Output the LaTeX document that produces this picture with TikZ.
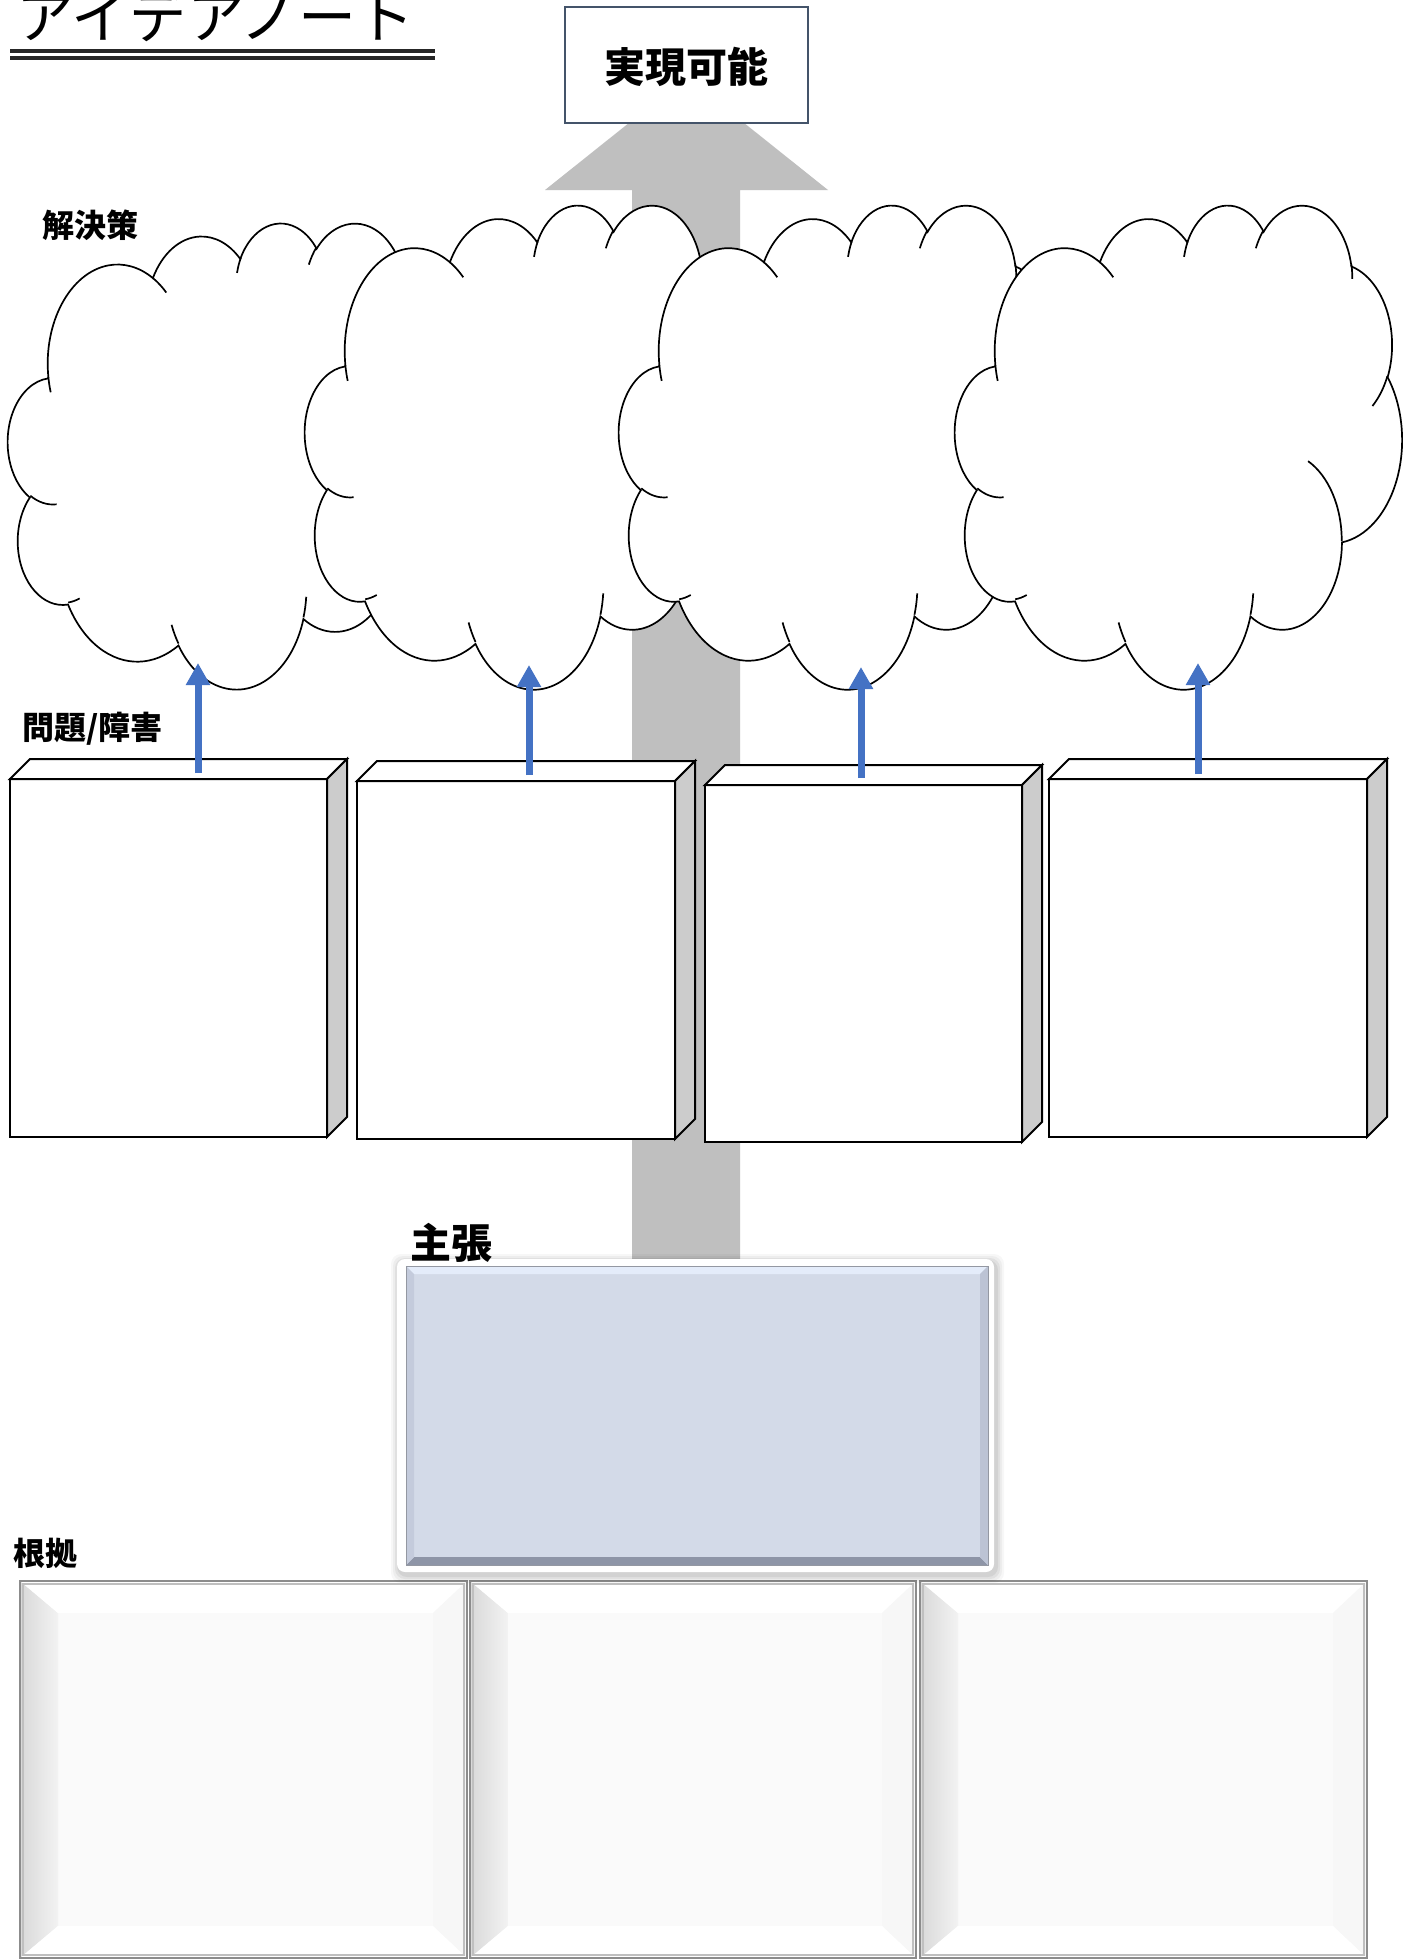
\documentclass[tikz,border=0pt]{standalone}
\usepackage{fontspec}
\setmainfont{Noto Sans CJK JP}
\usetikzlibrary{arrows.meta}
\definecolor{arrowgray}{HTML}{BFBFBF}
\definecolor{goalframe}{HTML}{44546A}
\definecolor{cubeside}{HTML}{CCCCCC}
\definecolor{bluearr}{HTML}{4472C4}
\definecolor{claimfill}{HTML}{D3DAE8}
\definecolor{claimtop}{HTML}{E4ECFA}
\definecolor{claimbot}{HTML}{8E95A7}
\definecolor{claimleft}{HTML}{C4CBDC}
\definecolor{claimright}{HTML}{BCC3D4}
\definecolor{titleline}{HTML}{262626}
\definecolor{bevelborder}{HTML}{8C8C8C}

% visual (OOXML) angle arc -> parametric TikZ arc
\newcommand\carc[4]{arc[x radius=#1pt, y radius=#2pt,
  start angle={atan2(sin(#3)*#1,cos(#3)*#2)},
  delta angle={mod(atan2(sin(#3+#4)*#1,cos(#3+#4)*#2)-atan2(sin(#3)*#1,cos(#3)*#2)+720,360)}]}

\newcommand\officecloud[4]{% X Y W H (px)
\begin{scope}[shift={(#1,#2)}, xscale=#3*0.5/4320, yscale=-#4*0.5/4320]
 \draw[cloudline, fill=white] (390pt,1437pt)
  \carc{675.3}{919.0}{-190.4875}{123.7805}
  \carc{533.3}{726.7}{-144.1024}{89.9452}
  \carc{436.5}{594.5}{-145.8079}{99.7230}
  \carc{485.7}{659.5}{-130.9861}{117.2417}
  \carc{533.3}{727.3}{-78.7089}{109.0269}
  \carc{677.5}{922.0}{-46.2673}{130.2690}
  \carc{578.5}{786.7}{0.6250}{114.0333}
  \carc{675.2}{921.5}{22.4516}{115.1726}
  \carc{772.0}{1054.3}{66.2426}{75.7110}
  \carc{436.0}{591.8}{-274.9421}{146.7356}
  \carc{434.5}{594.5}{-246.8285}{152.5189}
  -- cycle;
 \draw[cloudline]
  (469.3pt,2617.7pt) \carc{434.5}{594.5}{86.7420}{26.4295}
  (692.8pt,3489.9pt) \carc{436.0}{591.8}{73.6105}{11.4475}
  (1647.8pt,3909.0pt) \carc{675.2}{921.5}{137.6242}{14.0811}
  (2882.7pt,3475.1pt) \carc{675.2}{921.5}{6.4533}{15.9984}
  (3412.9pt,2295.4pt) \carc{578.5}{786.7}{-70.2924}{70.9174}
  (4179.8pt,1535.4pt) \carc{533.3}{727.3}{30.3180}{27.7515}
  (3832.4pt,542.6pt) \carc{485.7}{659.5}{-13.7443}{14.8589}
  (2907.8pt,395.2pt) \carc{485.7}{659.5}{-149.1815}{18.1954}
  (2214.1pt,472.0pt) \carc{436.5}{594.5}{-163.4943}{17.6864}
  (1400.0pt,519.2pt) \carc{675.3}{919.0}{-66.7070}{12.3194}
  (412.7pt,1578.9pt) \carc{675.3}{919.0}{157.6544}{11.8582};
\end{scope}}

\newcommand\cube[5]{% name cx cy w(pt) h(pt)
 \node[cubefront, minimum width=#4, minimum height=#5] (#1) at (#2,#3) {};
 \filldraw[cubeline, fill=white] (#1.north west) -- ([shift={(20,-20)}]#1.north west)
   -- ([shift={(20,-20)}]#1.north east) -- (#1.north east) -- cycle;
 \filldraw[cubeline, fill=cubeside] (#1.north east) -- ([shift={(20,-20)}]#1.north east)
   -- ([shift={(20,-20)}]#1.south east) -- (#1.south east) -- cycle;}

\newcommand\bevelbox[4]{% x1 y1 x2 y2
 \fill[white!98!black] (#1,#2) rectangle (#3,#4);
 \shade[left color=black!15, right color=black!5] (#1,#2) -- (#1+38,#2+32) -- (#1+38,#4-32) -- (#1,#4) -- cycle;
 \fill[white] (#1,#2) -- (#3,#2) -- (#3-34,#2+32) -- (#1+38,#2+32) -- cycle;
 \fill[black!3] (#3,#2) -- (#3,#4) -- (#3-34,#4-32) -- (#3-34,#2+32) -- cycle;
 \fill[white] (#1,#4) -- (#3,#4) -- (#3-34,#4-32) -- (#1+38,#4-32) -- cycle;
 \draw[black!25, line width=0.6pt] (#1+3,#2+3) rectangle (#3-3,#4-3);
 \draw[bevelborder, line width=1pt] (#1,#2) rectangle (#3,#4);}

\tikzset{
 cloudline/.style={black, line width=0.85pt},
 cubefront/.style={draw=black, line width=1pt, fill=white, rectangle, inner sep=0, outer sep=0},
 cubeline/.style={draw=black, line width=1pt, line join=miter},
 bluearrow/.style={bluearr, line width=3.5pt, -{Triangle[width=11.5pt,length=11pt]}},
 lbl/.style={font=\bfseries\fontsize{16pt}{16pt}\selectfont, inner sep=0, anchor=west},
}

\begin{document}
\begin{tikzpicture}[x=0.5pt, y=-0.5pt]
\useasboundingbox (0,0) rectangle (1413,1960);
\fill[white] (0,0) rectangle (1413,1960);

% title
\node[anchor=base west, inner sep=0, font=\fontsize{29pt}{29pt}\selectfont] (title) at (16,38) {アイデアノート};
\draw[titleline, line width=1.8pt] (10,51) -- (435,51);
\draw[titleline, line width=1.8pt] (10,58) -- (435,58);

% big gray arrow
\fill[arrowgray] (686.5,77) -- (828,190) -- (740,190) -- (740,1270) -- (632,1270)
  -- (632,190) -- (545,190) -- cycle;

% goal box
\node[draw=goalframe, line width=1pt, fill=white, inner sep=0,
  minimum width=121.5pt, minimum height=58pt] (goal) at (686.5,65) {};
\node[inner sep=0, font=\bfseries\fontsize{20.5pt}{20.5pt}\selectfont] (goaltext) at (686.5,67) {実現可能};

% clouds
\officecloud{8}{222}{447}{466}
\officecloud{305}{204}{447}{484}
\officecloud{619}{204}{447}{484}
\officecloud{955}{204}{447}{484}

% labels
\node[lbl] (sol) at (42,225) {解決策};
\node[lbl] (prob) at (22,729) {問題/障害};

% cubes
\cube{b1}{168.5}{958}{158.5pt}{179pt}
\cube{b2}{516}{960}{159pt}{179pt}
\cube{b3}{863.5}{963.5}{158.5pt}{178.5pt}
\cube{b4}{1208}{958}{159pt}{179pt}

% blue arrows
\coordinate (a1s) at (198,773); \coordinate (a1e) at (198,663);
\coordinate (a2s) at (529,775); \coordinate (a2e) at (529,665);
\coordinate (a3s) at (861,778); \coordinate (a3e) at (861,667);
\coordinate (a4s) at (1198,774); \coordinate (a4e) at (1198,663);
\draw[bluearrow] (a1s) -- (a1e);
\draw[bluearrow] (a2s) -- (a2e);
\draw[bluearrow] (a3s) -- (a3e);
\draw[bluearrow] (a4s) -- (a4e);

% evidence boxes
\bevelbox{20}{1581}{467}{1958}
\bevelbox{470}{1581}{916}{1958}
\bevelbox{920}{1581}{1367}{1958}
\node[lbl] (ev) at (13,1553) {根拠};

% claim box
\foreach \d/\o in {8/0.03,6/0.04,4/0.05,2/0.06}
  \fill[black, opacity=\o, rounded corners=5pt] (397-\d+2,1259-\d+3) rectangle (994+\d+2,1572+\d+3);
\fill[white, rounded corners=4pt] (397,1259) rectangle (994,1572);
\node[fill=claimfill, inner sep=0, outer sep=0, minimum width=291pt, minimum height=149.5pt] (claim) at (697,1415.5) {};
\fill[claimtop] (claim.north west) -- (claim.north east) -- ([shift={(-8,8)}]claim.north east) -- ([shift={(8,8)}]claim.north west) -- cycle;
\fill[claimbot] (claim.south west) -- (claim.south east) -- ([shift={(-8,-8)}]claim.south east) -- ([shift={(8,-8)}]claim.south west) -- cycle;
\fill[claimleft] (claim.north west) -- ([shift={(8,8)}]claim.north west) -- ([shift={(8,-8)}]claim.south west) -- (claim.south west) -- cycle;
\fill[claimright] (claim.north east) -- ([shift={(-8,8)}]claim.north east) -- ([shift={(-8,-8)}]claim.south east) -- (claim.south east) -- cycle;
\draw[claimfill!70!black, line width=0.4pt] (claim.north west) rectangle (claim.south east);
\node[lbl, font=\bfseries\fontsize{20.5pt}{20.5pt}\selectfont] (claimlbl) at (410,1243) {主張};
\end{tikzpicture}
\end{document}
